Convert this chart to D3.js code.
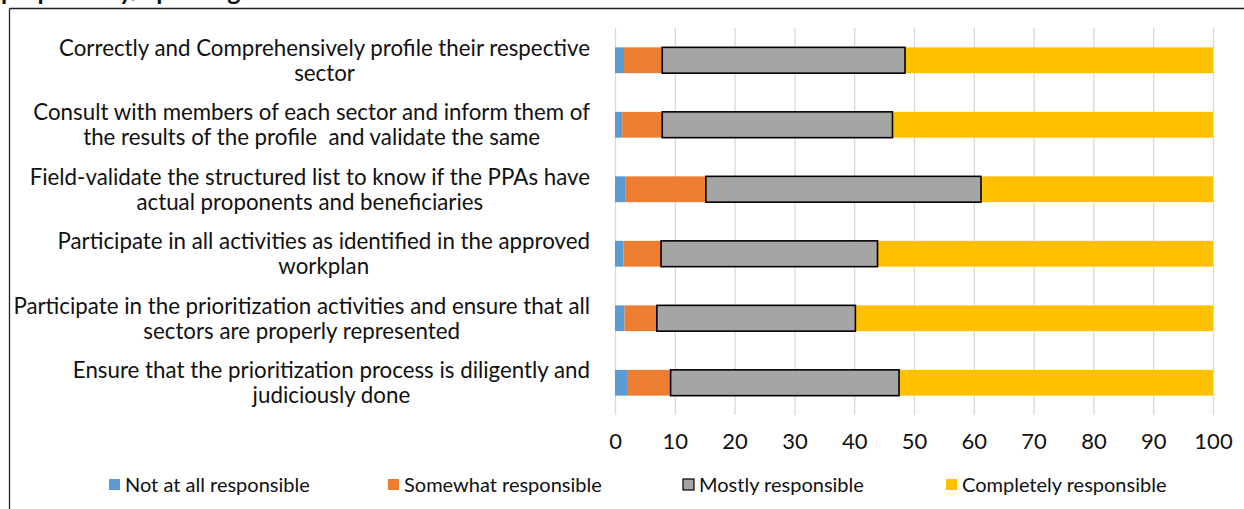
<!DOCTYPE html>
<html><head><meta charset="utf-8">
<script src="https://cdn.jsdelivr.net/npm/d3@7"></script>
<style>
html,body{margin:0;padding:0;background:#fff;}
svg{display:block;}
text{font-family:Lato,"Open Sans",sans-serif;fill:#111;white-space:pre;}
</style></head>
<body>
<svg id="c" width="1244" height="509"></svg>
<script>
const categories = [
  ["Correctly and Comprehensively profile their respective", "sector"],
  ["Consult with members of each sector and inform them of", "the results of the profile  and validate the same"],
  ["Field-validate the structured list to know if the PPAs have", "actual proponents and beneficiaries"],
  ["Participate in all activities as identified in the approved", "workplan"],
  ["Participate in the prioritization activities and ensure that all", "sectors are properly represented"],
  ["Ensure that the prioritization process is diligently and", "judiciously done"]
];
const seriesNames = ["Not at all responsible", "Somewhat responsible", "Mostly responsible", "Completely responsible"];
const notAtAll   = [1.5, 1.2, 1.7, 1.4, 1.6, 2.0];
const somewhat   = [6.4, 6.7, 13.5, 6.3, 5.4, 7.3];
const mostly     = [40.6, 38.5, 46.0, 36.2, 33.2, 38.2];
const completely = [51.5, 53.6, 38.8, 56.1, 59.8, 52.5];
const xTicks = [0,10,20,30,40,50,60,70,80,90,100];
const colors = ["#5B9BD5", "#ED7D31", "#A5A5A5", "#FFC000"];
const titleText = "preparatory/updating of the CSO";

const svg = d3.select("#c");
const W = 1244, H = 509;

// outer frame (left and top borders visible)
svg.append("line").attr("x1",9.5).attr("x2",9.5).attr("y1",8.5).attr("y2",H).attr("stroke","#222").attr("stroke-width",1.3);
svg.append("line").attr("x1",9.5).attr("x2",W).attr("y1",8.5).attr("y2",8.5).attr("stroke","#222").attr("stroke-width",1.3);

// title, cut off at the top edge as in the reference
svg.append("text").attr("x",1).attr("y",0).text(titleText)
  .style("font-weight","bold").style("font-size","25px");

const x = d3.scaleLinear().domain([0,100]).range([615,1213]);
const y = d3.scaleBand().domain(d3.range(categories.length)).range([28,415]).paddingInner(0.6).paddingOuter(0.3);

// gridlines
svg.append("g").selectAll("line").data(xTicks).join("line")
  .attr("x1",d=>x(d)+0.5).attr("x2",d=>x(d)+0.5).attr("y1",28).attr("y2",415)
  .attr("stroke","#D9D9D9").attr("stroke-width",1.3);

// axis labels
const axis = d3.axisBottom(x).tickValues(xTicks).tickSize(0).tickPadding(0);
const ag = svg.append("g").attr("transform","translate(0,433)").call(axis);
ag.select(".domain").remove();
ag.selectAll("text").style("font-size","22px").style("font-family","Lato, sans-serif").attr("fill","#111").attr("dy","0.71em");

// stacked data
const rows = categories.map((c,i)=>({i, s0:notAtAll[i], s1:somewhat[i], s2:mostly[i], s3:completely[i]}));
const stack = d3.stack().keys(["s0","s1","s2","s3"])(rows);

const bh = y.bandwidth();
stack.forEach((layer,k)=>{
  svg.append("g").selectAll("rect").data(layer).join("rect")
    .attr("x",d=>x(d[0]))
    .attr("width",d=>x(d[1])-x(d[0]))
    .attr("y",d=>y(d.data.i))
    .attr("height",bh)
    .attr("fill",colors[k]);
});
// border of the "mostly" series drawn on top
svg.append("g").selectAll("rect").data(stack[2]).join("rect")
  .attr("x",d=>x(d[0])).attr("width",d=>x(d[1])-x(d[0]))
  .attr("y",d=>y(d.data.i)).attr("height",bh)
  .attr("fill","none").attr("stroke","#000").attr("stroke-width",1.6);

// category labels (wrapped lines centered, block right-aligned)
const fs = 22.3;
const lg = svg.append("g");
categories.forEach((lines,i)=>{
  const cy = y(i)+bh/2;
  const g = lg.append("g");
  const ts = lines.map((l,j)=> g.append("text")
      .attr("y", cy + (j - (lines.length-1)/2)*25)
      .attr("dy","0.35em")
      .attr("text-anchor","middle")
      .style("font-size",fs+"px")
      .text(l));
  const wmax = d3.max(ts, t=>t.node().getComputedTextLength());
  ts.forEach(t=>t.attr("x", 590 - wmax/2));
});

// legend
const legX = [109, 388, 683, 946];
const lgd = svg.append("g");
seriesNames.forEach((n,k)=>{
  lgd.append("rect").attr("x",legX[k]).attr("y",479).attr("width",11).attr("height",11)
    .attr("fill",colors[k]).attr("stroke",k===2?"#000":"none").attr("stroke-width",k===2?1.2:0);
  lgd.append("text").attr("x",legX[k]+16).attr("y",485).attr("dy","0.35em")
    .style("font-size","20px").text(n);
});
</script>
</body></html>
